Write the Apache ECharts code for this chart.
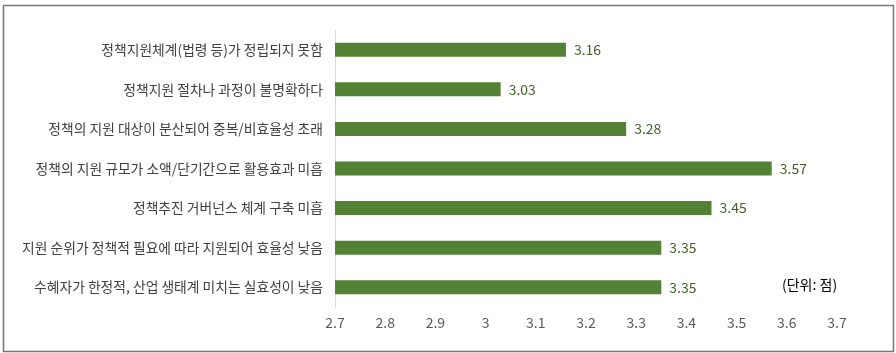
<!DOCTYPE html>
<html>
<head>
<meta charset="utf-8">
<script src="https://cdn.jsdelivr.net/npm/echarts@6/dist/echarts.min.js"></script>
<style>
html,body{margin:0;padding:0;background:#fff;}
#c{width:896px;height:353px;}
</style>
</head>
<body>
<div id="c"></div>
<script>
const categories = [
  "정책지원체계(법령 등)가 정립되지 못함",
  "정책지원 절차나 과정이 불명확하다",
  "정책의 지원 대상이 분산되어 중복/비효율성 초래",
  "정책의 지원 규모가 소액/단기간으로 활용효과 미흡",
  "정책추진 거버넌스 체계 구축 미흡",
  "지원 순위가 정책적 필요에 따라 지원되어 효율성 낮음",
  "수혜자가 한정적, 산업 생태계 미치는 실효성이 낮음"
];
const values = [3.16, 3.03, 3.28, 3.57, 3.45, 3.35, 3.35];
const unitNote = "(단위: 점)";

const FONT = '"Noto Sans CJK KR", "Noto Sans", sans-serif';
const chart = echarts.init(document.getElementById('c'));
chart.setOption({
  animation: false,
  backgroundColor: '#fff',
  textStyle: { fontFamily: FONT },
  grid: { left: 335, right: 59, top: 30, bottom: 46, containLabel: false },
  xAxis: {
    type: 'value', min: 2.7, max: 3.7, interval: 0.1,
    axisLine: { show: false }, axisTick: { show: false },
    splitLine: { show: false },
    axisLabel: { color: '#595959', fontSize: 14, fontFamily: FONT, margin: 9,
      formatter: v => String(Math.round(v * 10) / 10) }
  },
  yAxis: {
    type: 'category', data: categories, inverse: true,
    axisLine: { show: true, lineStyle: { color: '#d9d9d9', width: 1 } },
    axisTick: { show: false },
    axisLabel: { color: '#404040', fontSize: 13.8, fontFamily: FONT, margin: 12 }
  },
  series: [{
    type: 'bar', data: values, barWidth: 14,
    itemStyle: { color: '#548235' },
    label: { show: true, position: 'right', distance: 8, color: '#44622a',
      fontSize: 14, fontFamily: FONT, formatter: p => p.value.toFixed(2) }
  }],
  graphic: [
    { type: 'rect', left: 1, top: 3, shape: { width: 890, height: 346 },
      style: { fill: 'none', stroke: '#767676', lineWidth: 1.5 }, silent: true, z: -1 },
    { type: 'text', left: 782, top: 278,
      style: { text: unitNote, fill: '#000', font: '14px ' + FONT } }
  ]
});
</script>
</body>
</html>
